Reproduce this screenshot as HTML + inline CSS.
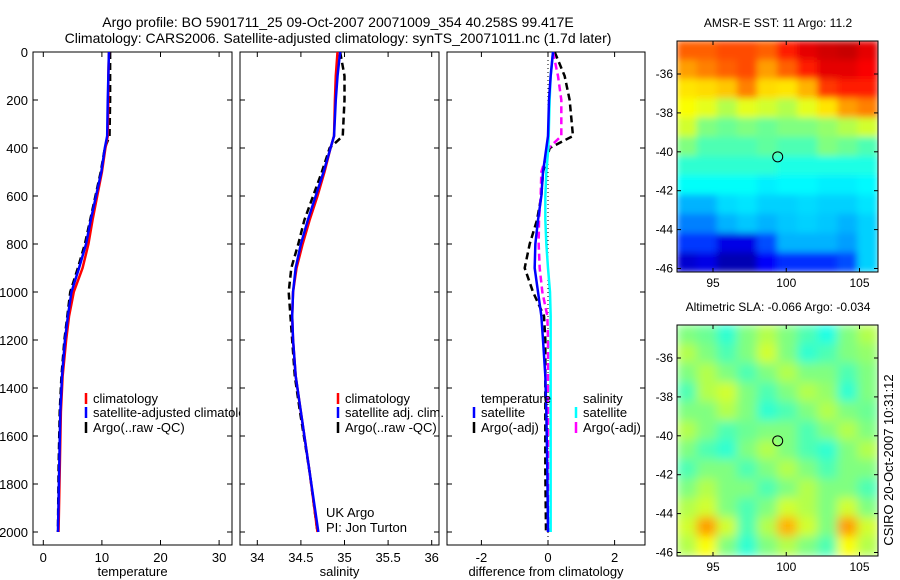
<!DOCTYPE html>
<html><head><meta charset="utf-8"><style>
html,body{margin:0;padding:0;background:#fff;}
svg{display:block;font-family:"Liberation Sans",sans-serif;}
</style></head><body>
<svg id="fig" width="900" height="580" viewBox="0 0 900 580">
<defs>
<filter id="blurA" x="0" y="0" width="1" height="1"><feGaussianBlur stdDeviation="3.5"/></filter>
<filter id="blurB" x="0" y="0" width="1" height="1"><feGaussianBlur stdDeviation="5"/></filter>
<clipPath id="clipSST"><rect x="677" y="41" width="201" height="231"/></clipPath>
<clipPath id="clipSLA"><rect x="677" y="325" width="201" height="231"/></clipPath>
</defs>
<text x="338" y="27" font-size="14" text-anchor="middle">Argo profile: BO 5901711_25 09-Oct-2007 20071009_354 40.258S 99.417E</text>
<text x="338" y="43" font-size="14" text-anchor="middle">Climatology: CARS2006. Satellite-adjusted climatology: synTS_20071011.nc (1.7d later)</text>
<text transform="translate(893,460) rotate(-90)" font-size="13" text-anchor="middle">CSIRO 20-Oct-2007 10:31:12</text>
<g id="plots"></g>
</svg>
<script>
// ---- data ----
const depths = [0,100,200,350,400,500,600,700,800,900,1000,1100,1200,1350,1500,1750,2000];
const tempClim = [11.2,11.1,11.1,11.0,10.6,10.0,9.2,8.4,7.7,6.7,5.2,4.4,3.9,3.3,3.0,2.8,2.6];
const tempSat  = [11.2,11.1,11.0,10.9,10.5,9.9,9.0,8.1,7.3,6.1,4.8,4.2,3.7,3.2,2.9,2.7,2.5];
const tempArgo = [11.4,11.4,11.4,11.3,10.5,9.8,8.9,8.0,7.1,5.9,4.6,4.1,3.6,3.1,2.8,2.6,2.5];
const salClim = [34.92,34.9,34.89,34.88,34.84,34.77,34.69,34.6,34.52,34.45,34.41,34.40,34.41,34.44,34.5,34.6,34.69];
const salSat  = [34.95,34.92,34.9,34.88,34.84,34.76,34.67,34.58,34.5,34.44,34.41,34.40,34.41,34.44,34.5,34.6,34.7];
const salArgo = [34.95,35.0,35.0,34.98,34.83,34.74,34.64,34.54,34.47,34.39,34.36,34.38,34.40,34.43,34.49,34.6,34.69];
const dTempSat  = [0.15,0.08,0.03,0,-0.05,-0.15,-0.2,-0.3,-0.38,-0.4,-0.3,-0.2,-0.15,-0.08,-0.05,-0.02,0];
const dTempArgo = [0.2,0.5,0.65,0.75,0.05,-0.15,-0.2,-0.33,-0.55,-0.7,-0.45,-0.12,-0.08,-0.08,-0.08,-0.08,-0.06];
const dSalSat   = [0.15,0.08,0.05,0.02,0.01,-0.05,-0.08,-0.08,-0.05,0,0.06,0.08,0.08,0.08,0.08,0.08,0.08];
const dSalArgo  = [0.15,0.3,0.4,0.4,0.02,-0.2,-0.22,-0.27,-0.28,-0.25,-0.17,-0.02,0,0,0,0,0];
const depthTicks = [0,200,400,600,800,1000,1200,1400,1600,1800,2000];
const tempTicks = [0,10,20,30];
const salTicks = [34,34.5,35,35.5,36];
const salTickLabels = ["34","34.5","35","35.5","36"];
const diffTicks = [-2,0,2];
const lonTicks = [95,100,105];
const latTicks = [-36,-38,-40,-42,-44,-46];
const argoLon = 99.417;
const argoLat = -40.258;
const sstGrid = [
[.78,.78,.8,.8,.78,.85,.9,.92,.93,.9],
[.72,.75,.78,.8,.72,.78,.85,.9,.9,.88],
[.65,.66,.68,.75,.66,.65,.7,.82,.85,.85],
[.62,.6,.55,.6,.58,.55,.6,.65,.72,.75],
[.58,.5,.48,.5,.48,.5,.5,.52,.55,.58],
[.5,.45,.45,.45,.47,.45,.45,.5,.48,.45],
[.42,.42,.42,.42,.42,.4,.4,.4,.4,.4],
[.38,.38,.38,.38,.36,.37,.37,.36,.36,.37],
[.3,.3,.34,.35,.33,.33,.34,.33,.33,.35],
[.25,.25,.3,.32,.3,.32,.33,.32,.3,.33],
[.18,.18,.1,.1,.2,.3,.3,.3,.28,.33],
[.08,.1,.05,.05,.12,.17,.17,.17,.2,.33]];
const slaGrid = [
[.5,.48,.42,.5,.55,.5,.45,.4,.5,.55],
[.55,.5,.45,.5,.58,.5,.42,.45,.5,.52],
[.5,.55,.5,.45,.5,.55,.5,.5,.45,.5],
[.45,.55,.58,.5,.45,.5,.55,.52,.42,.5],
[.5,.5,.55,.5,.42,.45,.5,.55,.5,.48],
[.55,.5,.45,.48,.5,.5,.45,.5,.55,.5],
[.5,.45,.42,.5,.55,.5,.45,.42,.5,.55],
[.45,.5,.5,.45,.5,.55,.5,.45,.5,.5],
[.5,.55,.5,.5,.45,.5,.55,.5,.5,.45],
[.55,.58,.5,.45,.5,.58,.55,.5,.58,.5],
[.58,.72,.58,.45,.55,.7,.58,.5,.72,.58],
[.55,.62,.5,.42,.5,.55,.5,.45,.62,.55]];

// ---- helpers ----
const NS="http://www.w3.org/2000/svg";
const root=document.getElementById('plots');
function mk(tag,attrs,parent){const e=document.createElementNS(NS,tag);for(const k in attrs)e.setAttribute(k,attrs[k]);(parent||root).appendChild(e);return e;}
const yD=d=>52+d*0.24;
function jet(v){const c=x=>Math.round(255*Math.max(0,Math.min(1,x)));return `rgb(${c(1.5-Math.abs(4*v-3))},${c(1.5-Math.abs(4*v-2))},${c(1.5-Math.abs(4*v-1))})`;}

function panel(name,x0,x1,xs,ticks,labels,xlabel,showY){
  const g=mk('g',{});
  
  
  const bg=mk('rect',{x:x0,y:52,width:x1-x0,height:493,fill:'#fff',stroke:'#000','stroke-width':1},g);
  
  
  ticks.forEach((t,i)=>{const x=xs(t);
    mk('line',{x1:x,x2:x,y1:52,y2:57,stroke:'#000'},g);
    mk('line',{x1:x,x2:x,y1:545,y2:540,stroke:'#000'},g);
    const tl=mk('text',{x:x,y:562,'font-size':13,'text-anchor':'middle'},g);tl.textContent=labels[i];
    
    
  });
  depthTicks.forEach(d=>{const y=yD(d);
    mk('line',{x1:x0,x2:x0+5,y1:y,y2:y,stroke:'#000'},g);
    mk('line',{x1:x1,x2:x1-5,y1:y,y2:y,stroke:'#000'},g);
    if(showY){const tl=mk('text',{x:x0-5,y:y+5,'font-size':13,'text-anchor':'end'},g);tl.textContent=d;
      
      }
  });
  const xl=mk('text',{x:(x0+x1)/2,y:576,'font-size':13,'text-anchor':'middle'},g);xl.textContent=xlabel;
  
  
  return g;
}
function profile(g,vals,xs,color,dash,name,w){
  const p=mk('polyline',{points:vals.map((v,i)=>xs(v)+','+yD(depths[i])).join(' '),fill:'none',stroke:color,'stroke-width':w||2.5,'stroke-dasharray':dash||''},g);
  
  
}
function legend(g,x,y,color,label,name){
  mk('line',{x1:x,x2:x,y1:y-10,y2:y+1,stroke:color,'stroke-width':2.5},g);
  const t=mk('text',{x:x+7,y:y,'font-size':13},g);t.textContent=label;
  
  
}

// Panel 1 temperature
const xT=v=>43.3+v*5.86;
const g1=panel('temperature-panel',33,232,xT,tempTicks,tempTicks.map(String),'temperature',true);
profile(g1,tempArgo,xT,'#000','7,4','temp-argo-line');
profile(g1,tempClim,xT,'#f00','','temp-climatology-line');
profile(g1,tempSat,xT,'#00f','','temp-satellite-line');
legend(g1,86,403,'#f00','climatology','legend-climatology');
legend(g1,86,417,'#00f','satellite-adjusted climatology','legend-satellite-adjusted');
legend(g1,86,432,'#000','Argo(..raw -QC)','legend-argo');

// Panel 2 salinity
const xS=v=>257.3+(v-34)*87.2;
const g2=panel('salinity-panel',240,439,xS,salTicks,salTickLabels,'salinity',false);
profile(g2,salArgo,xS,'#000','7,4','sal-argo-line');
profile(g2,salClim,xS,'#f00','','sal-climatology-line');
profile(g2,salSat,xS,'#00f','','sal-satellite-line');
legend(g2,338,403,'#f00','climatology','legend-climatology');
legend(g2,338,417,'#00f','satellite adj. clim.','legend-satellite-adj');
legend(g2,338,432,'#000','Argo(..raw -QC)','legend-argo');
[['UK Argo',517],['PI: Jon Turton',532]].forEach(([s,y])=>{const t=mk('text',{x:326,y:y,'font-size':13},g2);t.textContent=s;
  
  });

// Panel 3 difference
const xDf=v=>548+v*33.3;
const g3=panel('difference-panel',447,645,xDf,diffTicks,diffTicks.map(String),'difference from climatology',false);
mk('line',{x1:xDf(0),x2:xDf(0),y1:52,y2:545,stroke:'#000','stroke-dasharray':'1,3'},g3);
profile(g3,dTempArgo,xDf,'#000','7,4','diff-temp-argo-line');
profile(g3,dSalArgo,xDf,'#f0f','7,4','diff-sal-argo-line');
profile(g3,dSalSat,xDf,'#0ff','','diff-sal-satellite-line');
profile(g3,dTempSat,xDf,'#00f','','diff-temp-satellite-line');
[['temperature',481,403],['salinity',583,403]].forEach(([s,x,y])=>{const t=mk('text',{x:x,y:y,'font-size':13},g3);t.textContent=s;
  
  });
legend(g3,474,417,'#00f','satellite','legend-temp-satellite');
legend(g3,474,432,'#000','Argo(-adj)','legend-temp-argo');
legend(g3,576,417,'#0ff','satellite','legend-sal-satellite');
legend(g3,576,432,'#f0f','Argo(-adj)','legend-sal-argo');

// Maps
function map(name,grid,top,title,filt,clip){
  const x0=677,x1=878,y0=top,y1=top+231;
  const lonX=v=>713+(v-95)*14.65;
  const latY=v=>y0+33+(-36-v)*19.45;
  const g=mk('g',{});
  
  
  const tt=mk('text',{x:778,y:top-14,'font-size':12,'text-anchor':'middle'},g);tt.textContent=title;
  
  
  const cg=mk('g',{'clip-path':`url(#${clip})`},g);
  const hg=mk('g',{filter:`url(#${filt})`},cg);
  const rows=grid.length,cols=grid[0].length,cw=(x1-x0)/cols,ch=(y1-y0)/rows;
  mk('rect',{x:x0,y:y0,width:x1-x0,height:y1-y0,fill:jet(grid[rows>>1][cols>>1])},hg);
  grid.forEach((row,r)=>row.forEach((v,c)=>{
    const cell=mk('rect',{x:x0+c*cw-0.5,y:y0+r*ch-0.5,width:cw+1,height:ch+1,fill:jet(v)},hg);
    
    
  }));
  mk('rect',{x:x0,y:y0,width:x1-x0,height:y1-y0,fill:'none',stroke:'#000'},g);
  lonTicks.forEach(v=>{const x=lonX(v);
    mk('line',{x1:x,x2:x,y1:y0,y2:y0+4,stroke:'#000'},g);
    mk('line',{x1:x,x2:x,y1:y1,y2:y1-4,stroke:'#000'},g);
    const t=mk('text',{x:x,y:y1+15,'font-size':12,'text-anchor':'middle'},g);t.textContent=v;
    
    });
  latTicks.forEach(v=>{const y=latY(v);
    mk('line',{x1:x0,x2:x0+4,y1:y,y2:y,stroke:'#000'},g);
    mk('line',{x1:x1,x2:x1-4,y1:y,y2:y,stroke:'#000'},g);
    const t=mk('text',{x:x0-4,y:y+4,'font-size':12,'text-anchor':'end'},g);t.textContent=v;
    
    });
  const m=mk('circle',{cx:lonX(argoLon),cy:latY(argoLat),r:5,fill:'none',stroke:'#000'},g);
  
  
}
map('sst-map',sstGrid,41,'AMSR-E SST: 11 Argo: 11.2','blurA','clipSST');
map('sla-map',slaGrid,325,'Altimetric SLA: -0.066 Argo: -0.034','blurB','clipSLA');
</script>
</body></html>
